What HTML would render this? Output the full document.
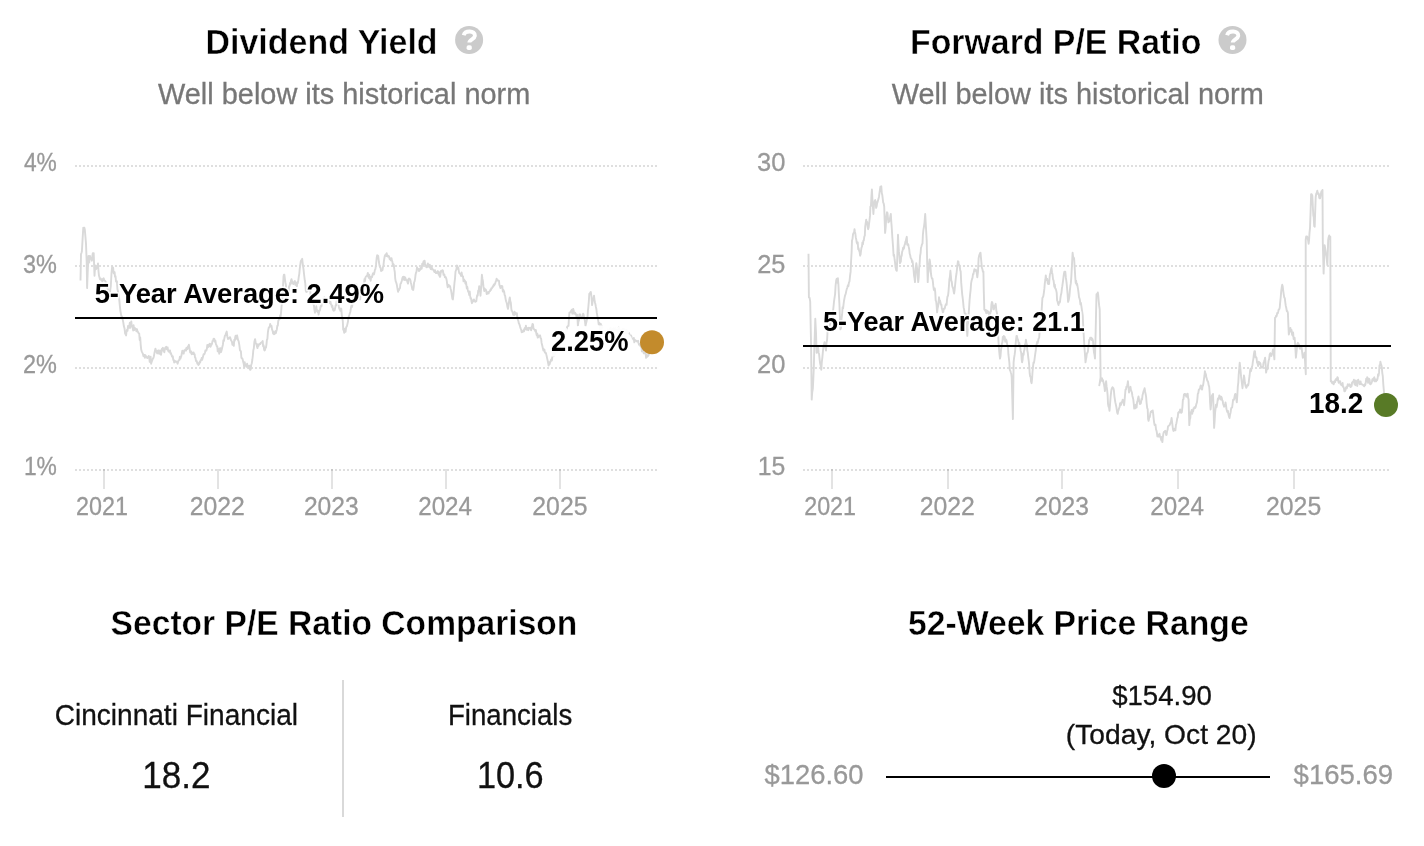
<!DOCTYPE html>
<html><head><meta charset="utf-8"><title>Valuation</title>
<style>
html,body{margin:0;padding:0;background:#fff;}
body{width:1424px;height:846px;overflow:hidden;}
svg{display:block;font-family:"Liberation Sans",sans-serif;will-change:transform;}
</style></head><body>
<svg width="1424" height="846" viewBox="0 0 1424 846">
<line x1="75" y1="166" x2="657" y2="166" stroke="rgba(0,0,0,0.125)" stroke-width="2" stroke-dasharray="2 2"/><line x1="75" y1="266" x2="657" y2="266" stroke="rgba(0,0,0,0.125)" stroke-width="2" stroke-dasharray="2 2"/><line x1="75" y1="368" x2="657" y2="368" stroke="rgba(0,0,0,0.125)" stroke-width="2" stroke-dasharray="2 2"/><line x1="75" y1="470" x2="657" y2="470" stroke="rgba(0,0,0,0.125)" stroke-width="2" stroke-dasharray="2 2"/>
<line x1="104" y1="469" x2="104" y2="489" stroke="rgba(0,0,0,0.11)" stroke-width="2"/>
<line x1="218" y1="469" x2="218" y2="489" stroke="rgba(0,0,0,0.11)" stroke-width="2"/>
<line x1="332" y1="469" x2="332" y2="489" stroke="rgba(0,0,0,0.11)" stroke-width="2"/>
<line x1="446" y1="469" x2="446" y2="489" stroke="rgba(0,0,0,0.11)" stroke-width="2"/>
<line x1="560" y1="469" x2="560" y2="489" stroke="rgba(0,0,0,0.11)" stroke-width="2"/>
<line x1="803" y1="166" x2="1389" y2="166" stroke="rgba(0,0,0,0.125)" stroke-width="2" stroke-dasharray="2 2"/><line x1="803" y1="266" x2="1389" y2="266" stroke="rgba(0,0,0,0.125)" stroke-width="2" stroke-dasharray="2 2"/><line x1="803" y1="368" x2="1389" y2="368" stroke="rgba(0,0,0,0.125)" stroke-width="2" stroke-dasharray="2 2"/><line x1="803" y1="470" x2="1389" y2="470" stroke="rgba(0,0,0,0.125)" stroke-width="2" stroke-dasharray="2 2"/>
<line x1="832" y1="469" x2="832" y2="489" stroke="rgba(0,0,0,0.11)" stroke-width="2"/>
<line x1="948" y1="469" x2="948" y2="489" stroke="rgba(0,0,0,0.11)" stroke-width="2"/>
<line x1="1062" y1="469" x2="1062" y2="489" stroke="rgba(0,0,0,0.11)" stroke-width="2"/>
<line x1="1178" y1="469" x2="1178" y2="489" stroke="rgba(0,0,0,0.11)" stroke-width="2"/>
<line x1="1294" y1="469" x2="1294" y2="489" stroke="rgba(0,0,0,0.11)" stroke-width="2"/>
<path d="M80.5,280.5 L81.0,254.0 L81.5,252.8 L81.9,251.2 L82.6,238.9 L83.3,227.6 L83.8,229.4 L84.3,227.6 L84.8,229.5 L85.2,234.2 L86.0,243.6 L86.7,262.6 L87.1,288.1 L87.9,267.3 L88.5,255.9 L89.2,262.6 L90.0,255.9 L90.4,258.4 L90.9,257.8 L91.4,258.9 L91.9,260.7 L92.3,256.5 L92.8,253.1 L93.3,255.9 L93.7,253.1 L94.5,275.8 L95.2,265.4 L95.6,267.5 L96.1,269.2 L96.6,268.2 L97.1,267.3 L97.5,266.5 L98.0,263.5 L98.5,271.3 L99.0,275.8 L99.4,277.0 L99.9,279.2 L100.4,279.6 L100.8,278.6 L101.3,280.0 L101.8,280.3 L102.3,281.5 L102.7,279.2 L103.2,278.7 L103.7,278.3 L104.2,280.5 L104.6,280.5 L105.1,280.9 L105.6,281.5 L106.0,283.2 L106.5,286.0 L107.0,288.1 L107.5,287.0 L107.9,289.9 L108.4,290.9 L108.9,292.9 L109.4,295.2 L109.8,295.7 L110.3,289.7 L110.8,286.2 L111.5,273.0 L112.2,266.3 L112.7,267.9 L113.1,267.7 L113.6,273.0 L114.1,273.5 L114.6,272.2 L115.0,276.7 L115.5,276.2 L116.0,281.5 L116.4,281.5 L116.9,281.3 L117.4,289.0 L117.9,290.9 L118.3,293.8 L118.8,295.7 L119.3,300.2 L119.9,306.4 L120.4,310.8 L120.9,313.5 L121.3,316.1 L121.8,316.1 L122.3,318.3 L122.8,320.0 L123.3,322.5 L123.8,325.9 L124.5,328.2 L125.1,333.5 L125.6,334.4 L126.1,335.4 L126.5,331.4 L127.0,329.7 L127.5,330.8 L128.0,325.9 L128.4,326.6 L128.9,327.8 L129.4,325.4 L129.8,322.8 L130.3,327.8 L130.8,324.0 L131.3,321.4 L131.7,325.5 L132.2,326.1 L132.7,327.8 L133.2,330.5 L133.6,325.3 L134.1,330.1 L134.6,328.7 L135.0,328.1 L135.5,329.3 L136.0,329.0 L136.4,331.3 L136.9,329.1 L137.4,331.1 L137.8,331.6 L138.5,333.1 L139.2,333.5 L139.7,340.0 L140.2,337.4 L140.7,344.8 L141.2,349.6 L141.7,351.3 L142.2,352.4 L142.8,353.6 L143.5,356.2 L144.0,356.4 L144.5,355.0 L144.9,357.9 L145.4,355.2 L145.9,356.2 L146.3,356.3 L146.8,357.0 L147.3,358.1 L147.8,357.5 L148.2,357.3 L148.7,356.0 L149.2,357.1 L149.7,361.9 L150.1,357.6 L150.6,356.7 L151.1,363.7 L151.7,361.7 L152.4,360.0 L152.9,358.5 L153.4,358.0 L153.9,356.2 L154.4,353.3 L154.9,350.9 L155.4,348.6 L156.1,351.0 L156.7,352.4 L157.2,353.4 L157.7,350.8 L158.2,350.4 L158.6,350.5 L159.1,353.9 L159.6,352.2 L160.1,350.4 L160.5,352.4 L161.0,354.9 L161.5,351.7 L162.0,348.7 L162.4,348.6 L162.9,347.8 L163.4,350.9 L163.8,350.2 L164.3,352.4 L164.8,349.4 L165.3,347.6 L165.7,347.4 L166.2,346.7 L166.7,349.3 L167.2,348.0 L167.6,347.4 L168.1,350.5 L168.6,351.5 L169.0,350.6 L169.5,351.8 L170.0,350.5 L170.5,353.7 L170.9,353.1 L171.4,354.5 L171.9,356.2 L172.4,357.0 L172.8,356.4 L173.3,360.0 L173.8,360.0 L174.2,362.5 L174.7,361.2 L175.2,361.0 L175.7,361.8 L176.1,361.9 L176.6,361.6 L177.1,362.1 L177.6,363.7 L178.0,362.2 L178.5,360.6 L179.0,360.2 L179.4,360.0 L179.9,356.6 L180.4,358.6 L180.9,357.2 L181.3,356.2 L181.8,353.5 L182.3,350.8 L182.8,353.3 L183.2,352.4 L183.7,353.6 L184.2,350.3 L184.6,350.2 L185.1,350.5 L185.6,349.2 L186.1,350.5 L186.5,347.7 L187.0,348.6 L187.5,349.1 L188.0,346.3 L188.4,347.2 L188.9,344.8 L189.6,348.7 L190.2,352.4 L190.7,352.7 L191.2,351.4 L191.7,354.3 L192.2,352.8 L192.7,352.9 L193.2,353.9 L193.6,352.4 L194.1,354.2 L194.6,354.2 L195.0,357.3 L195.5,358.1 L196.0,361.0 L196.5,360.7 L196.9,361.7 L197.4,363.7 L197.9,363.1 L198.4,365.0 L198.8,364.5 L199.3,363.7 L199.8,361.4 L200.2,362.4 L200.7,360.2 L201.2,360.0 L201.7,357.9 L202.1,359.9 L202.6,358.3 L203.1,356.2 L203.6,354.1 L204.0,354.4 L204.5,354.1 L205.0,352.4 L205.4,350.5 L205.9,350.3 L206.4,350.6 L206.9,348.6 L207.3,345.0 L207.8,347.2 L208.3,346.9 L208.8,344.8 L209.2,346.1 L209.7,343.8 L210.2,346.7 L210.7,346.7 L211.1,344.0 L211.6,344.7 L212.1,343.4 L212.5,341.0 L213.0,340.9 L213.5,338.9 L214.0,338.7 L214.4,339.1 L214.9,341.8 L215.4,340.6 L215.9,344.1 L216.3,344.8 L216.8,346.5 L217.3,346.3 L217.7,351.3 L218.2,348.6 L218.7,349.7 L219.2,353.7 L219.6,348.4 L220.1,352.4 L220.6,348.1 L221.1,352.0 L221.5,350.5 L222.0,348.6 L222.5,346.2 L222.9,344.7 L223.4,340.1 L223.9,341.0 L224.4,338.2 L224.9,335.7 L225.4,335.4 L226.1,333.1 L226.7,331.6 L227.4,336.7 L228.0,339.1 L228.6,338.6 L229.1,338.4 L229.6,337.3 L230.0,337.2 L230.5,338.5 L231.0,340.3 L231.5,341.0 L231.9,341.6 L232.4,344.8 L232.9,342.6 L233.3,344.8 L233.8,345.8 L234.3,339.6 L234.8,340.7 L235.2,337.3 L235.7,335.6 L236.2,338.8 L236.7,336.0 L237.1,335.4 L237.6,337.9 L238.1,340.3 L238.6,341.0 L239.3,344.8 L240.0,350.5 L240.4,350.8 L240.9,351.2 L241.4,358.0 L241.9,358.1 L242.3,358.4 L242.8,360.0 L243.3,362.3 L243.7,363.7 L244.2,367.2 L244.7,362.1 L245.2,365.5 L245.6,365.6 L246.1,365.3 L246.6,366.9 L247.1,363.6 L247.5,366.6 L248.0,365.7 L248.5,367.4 L248.9,368.2 L249.4,365.6 L250.1,369.9 L250.7,369.4 L251.2,365.0 L251.8,363.2 L252.3,360.0 L252.8,356.0 L253.3,350.3 L253.8,348.6 L254.4,341.7 L255.1,339.1 L255.6,342.2 L256.0,343.3 L256.5,344.6 L257.0,346.7 L257.5,348.1 L257.9,344.3 L258.4,346.1 L258.9,344.8 L259.3,344.4 L259.8,343.8 L260.3,344.1 L260.8,342.9 L261.2,342.7 L261.7,342.4 L262.2,341.9 L262.7,341.0 L263.1,346.3 L263.6,345.3 L264.1,349.7 L264.6,350.5 L265.0,350.0 L265.5,347.1 L266.0,347.4 L266.4,344.8 L266.9,339.8 L267.4,339.0 L267.9,332.3 L268.3,329.7 L268.8,327.5 L269.3,327.3 L269.8,326.7 L270.2,324.0 L270.9,326.3 L271.5,325.9 L272.1,329.8 L272.6,330.6 L273.1,333.5 L273.5,332.0 L274.0,334.3 L274.5,333.9 L275.0,333.5 L275.4,331.1 L275.9,333.0 L276.4,330.9 L276.8,329.7 L277.3,325.9 L277.8,325.6 L278.3,320.6 L278.7,320.2 L279.2,318.0 L279.7,318.9 L280.2,315.1 L280.6,316.5 L281.1,312.1 L281.6,305.6 L282.1,303.2 L282.8,291.1 L283.5,276.7 L283.9,274.7 L284.4,274.8 L284.9,278.9 L285.4,282.4 L285.8,284.4 L286.3,290.4 L286.8,296.6 L287.2,299.4 L287.7,296.8 L288.2,290.1 L288.7,290.9 L289.1,286.2 L289.6,286.1 L290.1,282.8 L290.6,284.1 L291.0,280.5 L291.5,279.2 L292.0,281.0 L292.4,283.1 L292.9,283.7 L293.4,284.0 L293.9,282.4 L294.4,281.4 L294.9,281.0 L295.4,284.9 L295.9,282.8 L296.4,285.4 L296.9,286.2 L297.4,281.9 L297.8,283.1 L298.3,280.3 L298.8,276.7 L299.3,273.8 L299.7,269.2 L300.2,265.5 L300.7,261.6 L301.2,260.2 L301.7,260.3 L302.2,258.8 L302.8,264.3 L303.5,269.2 L304.2,275.5 L304.8,280.5 L305.3,283.7 L305.8,290.9 L306.3,291.9 L306.9,291.0 L307.4,291.4 L307.9,288.1 L308.5,289.1 L309.2,286.2 L309.7,287.2 L310.1,288.4 L310.6,295.2 L311.1,295.7 L311.5,296.5 L312.0,298.6 L312.5,299.5 L313.0,301.3 L313.4,304.4 L313.9,305.2 L314.4,309.7 L314.9,312.7 L315.3,311.0 L315.8,310.8 L316.3,306.3 L316.7,308.9 L317.2,311.5 L317.7,312.2 L318.2,310.6 L318.6,314.6 L319.1,311.6 L319.6,310.8 L320.1,309.8 L320.5,307.0 L321.0,305.6 L321.5,306.2 L322.0,302.8 L322.4,301.3 L322.9,298.9 L323.4,298.4 L323.8,299.6 L324.3,297.5 L324.8,298.0 L325.3,301.6 L325.7,303.3 L326.2,303.2 L326.7,303.2 L327.2,302.8 L327.6,300.1 L328.1,299.4 L328.6,300.4 L329.0,300.4 L329.5,301.4 L330.0,303.2 L330.5,301.8 L330.9,304.3 L331.4,304.4 L331.9,307.0 L332.4,305.8 L332.8,309.1 L333.3,310.5 L333.8,310.8 L334.2,308.8 L334.7,310.0 L335.2,307.9 L335.7,305.1 L336.1,305.3 L336.6,301.4 L337.1,298.6 L337.6,299.4 L338.0,302.6 L338.5,304.6 L339.0,307.6 L339.4,308.9 L339.9,309.5 L340.4,310.8 L340.9,308.5 L341.3,308.9 L341.8,315.1 L342.3,317.9 L342.8,321.0 L343.2,329.7 L343.7,329.5 L344.2,332.9 L344.6,328.6 L345.1,331.6 L345.6,331.7 L346.1,327.7 L346.5,326.7 L347.0,325.9 L347.5,323.6 L348.0,321.5 L348.4,317.4 L348.9,316.5 L349.4,314.8 L349.8,313.3 L350.3,312.0 L350.8,308.9 L351.3,305.9 L351.7,307.4 L352.2,306.1 L352.7,301.3 L353.2,301.6 L353.6,292.7 L354.1,291.7 L354.6,288.1 L355.0,284.4 L355.5,286.8 L356.0,286.1 L356.5,284.3 L356.9,285.4 L357.4,287.6 L357.9,293.1 L358.4,295.7 L358.8,297.5 L359.3,296.4 L359.8,298.1 L360.2,299.4 L360.7,293.8 L361.2,294.6 L361.7,294.0 L362.1,291.9 L362.6,290.2 L363.1,290.5 L363.6,284.5 L364.0,284.3 L364.5,279.0 L365.0,281.2 L365.4,277.7 L365.9,276.7 L366.4,276.2 L366.9,275.9 L367.3,274.8 L367.8,273.0 L368.3,276.5 L368.8,277.8 L369.2,274.7 L369.7,278.6 L370.2,278.1 L370.7,280.7 L371.1,276.6 L371.6,276.7 L372.1,277.2 L372.5,274.8 L373.0,273.3 L373.5,273.0 L374.0,274.4 L374.4,272.6 L374.9,269.8 L375.4,269.2 L376.0,264.9 L376.7,257.8 L377.2,255.2 L377.7,255.5 L378.2,255.9 L378.9,262.0 L379.5,265.4 L380.0,267.3 L380.5,267.6 L381.1,271.1 L381.5,270.8 L382.0,269.7 L382.5,270.2 L382.9,267.3 L383.4,265.9 L383.9,261.2 L384.4,258.0 L384.8,255.9 L385.3,255.0 L385.8,254.2 L386.3,256.0 L386.7,253.1 L387.2,256.2 L387.7,256.6 L388.1,255.8 L388.6,255.9 L389.1,256.5 L389.6,259.2 L390.0,258.2 L390.5,259.7 L391.0,260.5 L391.5,258.2 L391.9,260.5 L392.4,261.6 L392.9,265.7 L393.3,263.9 L393.8,265.0 L394.3,269.2 L394.8,272.2 L395.2,278.3 L395.7,281.3 L396.2,282.4 L396.7,284.2 L397.1,286.4 L397.6,289.3 L398.1,291.9 L398.5,289.5 L399.0,290.0 L399.5,288.6 L400.0,288.1 L400.4,284.0 L400.9,283.4 L401.4,282.0 L401.9,280.5 L402.3,278.3 L402.8,277.0 L403.3,279.0 L403.7,276.7 L404.2,280.1 L404.7,277.3 L405.2,277.5 L405.6,278.6 L406.1,280.3 L406.6,280.2 L407.1,280.3 L407.5,282.4 L408.0,283.6 L408.5,279.0 L408.9,278.5 L409.4,278.6 L409.9,279.1 L410.4,280.1 L410.8,282.5 L411.3,284.3 L411.8,286.6 L412.3,289.3 L412.7,289.6 L413.2,290.0 L413.7,287.2 L414.1,282.4 L414.6,281.4 L415.1,278.6 L415.6,274.4 L416.0,272.8 L416.5,271.6 L417.0,267.3 L417.5,268.5 L417.9,268.9 L418.4,269.0 L418.9,271.1 L419.3,270.6 L419.8,270.3 L420.3,268.3 L420.8,269.2 L421.2,267.5 L421.7,268.6 L422.2,263.8 L422.7,265.4 L423.1,263.5 L423.6,261.3 L424.1,264.2 L424.6,260.7 L425.0,263.2 L425.5,264.7 L426.0,266.2 L426.4,267.3 L426.9,267.2 L427.4,266.8 L427.9,263.5 L428.3,265.4 L428.8,266.2 L429.3,267.2 L429.8,264.7 L430.2,267.3 L430.7,269.0 L431.2,269.2 L431.6,266.4 L432.1,269.2 L432.6,268.9 L433.1,269.7 L433.5,269.8 L434.0,271.1 L434.5,272.1 L435.0,270.1 L435.4,272.1 L435.9,273.0 L436.4,272.8 L436.8,273.1 L437.3,271.6 L437.8,271.1 L438.3,272.1 L438.7,274.9 L439.2,272.3 L439.7,276.7 L440.2,276.7 L440.6,273.4 L441.1,270.6 L441.6,271.1 L442.0,271.4 L442.5,270.2 L443.0,270.8 L443.5,274.8 L443.9,274.8 L444.4,274.6 L444.9,277.4 L445.4,276.7 L445.8,277.3 L446.3,278.6 L446.8,281.0 L447.2,284.3 L447.7,287.3 L448.2,285.3 L448.7,284.8 L449.1,286.2 L449.6,285.7 L450.1,286.4 L450.6,288.8 L451.0,290.0 L451.5,293.0 L452.0,296.4 L452.4,298.8 L452.9,299.4 L453.4,294.6 L454.0,288.0 L454.5,282.5 L455.0,278.6 L455.5,271.8 L455.9,270.5 L456.4,269.3 L456.9,265.4 L457.4,266.3 L457.8,268.8 L458.3,267.6 L458.8,271.1 L459.3,273.4 L459.7,273.4 L460.2,274.0 L460.7,274.8 L461.1,275.9 L461.6,272.4 L462.1,275.4 L462.6,276.7 L463.0,276.3 L463.5,281.3 L464.0,279.3 L464.5,280.5 L464.9,280.7 L465.4,283.7 L465.9,281.8 L466.3,284.3 L466.8,288.3 L467.3,287.0 L467.8,289.9 L468.2,291.9 L468.7,291.4 L469.2,295.0 L469.7,291.4 L470.1,295.7 L470.6,298.6 L471.1,298.2 L471.5,301.4 L472.0,303.2 L472.5,300.5 L473.0,301.7 L473.4,300.7 L473.9,299.4 L474.4,300.8 L474.9,300.9 L475.3,301.8 L475.8,301.3 L476.3,301.4 L476.7,297.9 L477.2,295.3 L477.7,295.7 L478.2,290.6 L478.7,290.4 L479.2,286.2 L479.9,290.4 L480.5,295.7 L481.2,286.8 L481.9,274.8 L482.4,278.7 L482.9,280.9 L483.4,286.2 L483.8,288.5 L484.3,291.0 L484.8,288.8 L485.3,290.0 L485.7,289.5 L486.2,290.6 L486.7,294.1 L487.2,293.8 L487.6,292.4 L488.1,292.2 L488.6,293.4 L489.0,291.9 L489.5,291.4 L490.0,291.1 L490.5,289.6 L490.9,290.0 L491.4,288.1 L491.9,288.3 L492.4,287.4 L492.8,286.2 L493.3,286.6 L493.8,284.5 L494.2,285.3 L494.7,284.3 L495.2,283.6 L495.7,281.6 L496.1,280.9 L496.6,278.6 L497.1,280.6 L497.6,279.9 L498.0,280.2 L498.5,280.5 L499.0,281.0 L499.4,284.8 L499.9,286.1 L500.4,288.1 L500.9,287.1 L501.3,285.9 L501.8,287.5 L502.3,286.2 L502.8,291.5 L503.2,289.7 L503.7,290.6 L504.2,291.9 L504.6,294.9 L505.1,295.7 L505.6,299.1 L506.1,301.3 L506.5,302.2 L507.0,304.1 L507.5,307.3 L508.0,308.9 L508.4,306.4 L508.9,303.0 L509.4,299.2 L509.8,297.5 L510.3,301.2 L510.8,302.5 L511.3,308.6 L511.7,310.8 L512.2,311.2 L512.7,312.7 L513.2,314.8 L513.6,314.6 L514.1,314.9 L514.6,311.7 L515.0,312.8 L515.5,312.7 L516.0,314.6 L516.5,313.9 L516.9,313.3 L517.4,318.3 L517.9,319.7 L518.4,321.1 L518.8,323.2 L519.3,324.0 L519.8,325.6 L520.2,327.1 L520.7,328.6 L521.2,329.7 L521.7,332.2 L522.1,331.4 L522.6,331.9 L523.1,331.6 L523.6,330.0 L524.0,331.4 L524.5,328.5 L525.0,327.8 L525.4,329.4 L525.9,325.6 L526.4,329.6 L526.9,329.7 L527.3,329.1 L527.8,328.1 L528.3,330.2 L528.8,327.8 L529.2,328.6 L529.7,328.1 L530.2,327.7 L530.7,328.7 L531.1,330.4 L531.6,327.5 L532.1,326.2 L532.5,324.0 L533.0,324.3 L533.5,328.8 L534.0,329.1 L534.4,329.7 L534.9,330.2 L535.4,331.4 L535.9,330.1 L536.3,333.5 L536.8,335.4 L537.3,333.7 L537.7,337.6 L538.2,337.3 L538.7,336.1 L539.2,335.4 L539.6,336.4 L540.1,335.4 L540.6,338.2 L541.1,338.7 L541.6,342.9 L542.3,345.7 L542.9,348.6 L543.4,350.5 L543.9,350.1 L544.4,349.4 L544.8,352.4 L545.3,353.0 L545.8,352.8 L546.3,354.4 L546.7,356.2 L547.2,358.6 L547.7,360.8 L548.1,362.9 L548.6,365.6 L549.1,362.2 L549.6,364.3 L550.0,362.5 L550.5,361.8 L551.0,359.8 L551.5,359.2 L551.9,360.5 L552.4,356.2 L552.9,353.8 L553.3,352.8 L553.8,355.9 L554.3,354.3 L554.8,352.3 L555.2,354.6 L555.7,350.4 L556.2,350.3 L556.7,351.5 L557.1,350.8 L557.6,349.3 L558.1,348.5 L558.5,346.8 L559.0,345.5 L559.5,345.1 L560.0,346.4 L560.4,344.8 L560.9,342.9 L561.4,341.9 L561.9,341.3 L562.3,341.0 L562.8,340.4 L563.3,337.4 L563.7,336.4 L564.2,336.0 L564.7,338.3 L565.2,333.7 L565.6,334.2 L566.1,328.9 L566.6,331.4 L567.1,327.0 L567.5,326.4 L568.0,326.0 L568.5,325.9 L568.9,319.1 L569.4,312.7 L569.9,312.5 L570.4,312.3 L570.8,311.6 L571.3,310.8 L571.8,309.7 L572.3,313.7 L572.7,309.9 L573.2,308.9 L573.7,310.8 L574.1,313.8 L574.6,313.2 L575.1,312.7 L575.6,314.0 L576.0,314.1 L576.5,316.9 L577.0,314.6 L577.5,318.6 L577.9,325.9 L578.4,321.6 L578.9,320.5 L579.3,314.4 L579.8,314.6 L580.3,314.4 L580.8,318.1 L581.2,316.7 L581.7,318.3 L582.2,317.6 L582.7,317.5 L583.1,313.8 L583.6,314.6 L584.1,317.8 L584.6,319.3 L585.0,321.4 L585.5,325.9 L586.0,323.6 L586.4,322.0 L586.9,319.6 L587.4,318.3 L587.9,311.2 L588.3,307.5 L588.8,301.6 L589.3,293.8 L589.8,294.0 L590.3,292.4 L590.8,291.9 L591.5,296.9 L592.1,305.1 L592.6,301.5 L593.1,298.7 L593.5,298.3 L594.0,295.7 L594.5,299.8 L595.0,302.7 L595.4,304.1 L595.9,307.0 L596.4,309.3 L596.8,312.9 L597.3,315.7 L597.8,318.3 L598.3,321.1 L598.7,324.3 L599.2,323.0 L599.7,325.9 L600.1,329.5 L600.6,323.7 L601.0,324.7 L601.5,325.5 L602.0,326.7 L602.4,328.4 L602.9,332.3 L603.3,329.7 L603.8,328.7 L604.3,331.4 L604.7,329.3 L605.2,330.1 L605.7,328.4 L606.1,333.4 L606.6,330.0 L607.1,329.2 L607.6,333.6 L608.0,330.3 L608.5,330.5 L609.0,330.8 L609.5,329.9 L609.9,328.9 L610.4,327.9 L610.9,329.8 L611.4,332.4 L611.8,330.6 L612.3,329.6 L612.8,331.4 L613.2,328.4 L613.7,331.8 L614.2,329.7 L614.7,328.5 L615.1,329.7 L615.6,330.8 L616.1,330.7 L616.6,329.6 L617.0,330.6 L617.5,331.8 L618.0,332.6 L618.4,329.4 L618.9,326.9 L619.4,334.0 L619.9,331.1 L620.3,330.7 L620.8,330.4 L621.3,331.6 L621.8,330.4 L622.2,332.5 L622.7,329.1 L623.2,330.6 L623.7,329.0 L624.1,333.1 L624.6,330.8 L625.1,330.6 L625.6,332.8 L626.1,333.4 L626.6,329.7 L627.1,331.4 L627.6,332.9 L628.1,332.0 L628.6,332.8 L629.1,333.2 L629.6,335.4 L630.0,336.2 L630.5,335.6 L631.0,335.4 L631.5,336.8 L631.9,338.7 L632.4,338.7 L632.9,339.1 L633.3,339.6 L633.8,337.9 L634.3,342.4 L634.8,339.7 L635.2,340.3 L635.7,340.9 L636.2,340.7 L636.7,341.1 L637.1,341.5 L637.6,341.5 L638.1,340.7 L638.5,343.0 L639.0,344.7 L639.5,344.0 L640.0,343.9 L640.4,346.1 L640.9,346.9 L641.4,347.4 L641.9,351.3 L642.3,349.8 L642.8,349.5 L643.3,351.8 L643.8,353.4 L644.2,353.0 L644.7,353.3 L645.2,352.5 L645.6,353.1 L646.1,357.8 L646.6,354.7 L647.1,356.9 L647.7,356.3 L648.2,355.7 L648.7,354.8 L649.2,352.4 L649.6,348.0 L650.1,346.1 L650.5,347.1 L651.0,344.4 L651.5,343.5 L651.9,342.2" fill="none" stroke="#d9d9d9" stroke-width="1.9" stroke-linejoin="round"/>
<path d="M808.5,253.8 L808.9,297.4 L809.6,297.8 L810.2,301.7 L811.1,346.4 L811.7,399.6 L812.2,392.5 L812.8,388.9 L813.3,379.3 L813.8,367.7 L814.3,347.9 L814.8,334.8 L815.3,318.7 L816.0,332.4 L816.6,352.8 L817.1,352.3 L817.6,348.8 L818.1,346.4 L818.6,352.7 L819.1,354.1 L819.6,359.1 L820.1,363.3 L820.7,365.8 L821.3,369.8 L821.8,362.3 L822.4,357.2 L823.0,350.6 L823.5,345.9 L824.0,344.4 L824.5,342.1 L825.0,346.0 L825.5,347.9 L826.0,350.6 L826.5,342.9 L827.1,339.7 L827.7,329.4 L828.2,328.4 L828.7,326.4 L829.3,326.4 L829.8,325.1 L830.3,323.3 L830.9,322.4 L831.4,321.4 L831.9,320.9 L832.4,319.1 L833.0,311.3 L833.5,306.8 L834.0,301.7 L834.6,297.4 L835.1,294.1 L835.6,285.4 L836.2,280.4 L836.7,278.8 L837.3,282.7 L837.9,278.3 L838.4,284.6 L838.9,294.8 L839.4,303.8 L839.9,317.6 L840.4,329.4 L841.0,327.8 L841.6,318.0 L842.1,314.5 L842.6,307.3 L843.1,308.4 L843.6,303.8 L844.1,300.2 L844.6,297.6 L845.1,295.3 L845.7,293.9 L846.2,291.4 L846.8,288.9 L847.3,287.8 L847.9,285.1 L848.4,286.1 L848.9,282.6 L849.5,281.3 L850.1,275.5 L850.6,271.9 L851.1,260.8 L851.6,252.1 L852.0,240.5 L852.5,239.0 L853.0,234.4 L853.5,233.0 L854.0,233.0 L854.5,229.2 L854.9,231.7 L855.4,234.0 L855.8,237.4 L856.3,239.7 L856.7,242.4 L857.2,243.8 L857.7,242.4 L858.2,249.3 L858.6,248.1 L859.1,250.9 L859.6,251.8 L860.1,255.7 L860.6,254.5 L861.0,250.8 L861.5,247.7 L862.0,246.6 L862.4,242.4 L862.9,244.4 L863.4,240.4 L863.8,240.5 L864.3,236.7 L864.8,235.7 L865.2,226.7 L865.7,223.2 L866.2,219.7 L866.7,223.2 L867.1,221.9 L867.6,226.4 L868.1,229.2 L868.6,227.8 L869.0,224.1 L869.5,220.1 L870.0,215.9 L870.4,206.5 L870.9,206.2 L871.4,196.9 L871.9,189.5 L872.4,198.8 L872.9,206.6 L873.4,214.0 L874.0,204.8 L874.7,200.8 L875.2,200.1 L875.7,201.8 L876.1,207.9 L876.6,206.5 L877.1,203.3 L877.5,202.3 L878.0,200.4 L878.5,198.9 L879.0,196.7 L879.4,193.5 L879.9,190.1 L880.4,186.6 L880.9,186.9 L881.3,186.2 L881.8,193.3 L882.3,195.1 L882.7,198.4 L883.2,202.6 L883.7,203.5 L884.2,206.5 L884.6,218.8 L885.1,233.0 L885.6,228.4 L886.1,220.2 L886.5,215.8 L887.0,212.2 L887.5,213.0 L887.9,217.3 L888.4,222.4 L888.9,221.6 L889.4,220.9 L889.8,219.5 L890.3,216.3 L890.8,214.0 L891.3,222.0 L891.8,228.5 L892.3,236.7 L893.0,245.8 L893.6,255.7 L894.1,254.8 L894.6,259.5 L895.0,262.2 L895.5,267.0 L896.2,270.1 L896.8,270.8 L897.4,253.8 L898.0,234.8 L898.4,243.7 L898.9,251.4 L899.4,255.7 L899.9,263.2 L900.3,262.5 L900.8,261.6 L901.2,256.4 L901.7,255.8 L902.1,251.9 L902.6,250.7 L903.1,247.6 L903.5,249.2 L904.0,248.1 L904.5,245.0 L904.9,244.5 L905.4,241.7 L905.8,241.0 L906.3,238.6 L906.8,236.8 L907.2,244.6 L907.7,244.9 L908.2,244.3 L908.7,246.9 L909.2,249.2 L909.7,253.8 L910.2,255.2 L910.6,257.6 L911.1,258.6 L911.6,259.4 L912.1,262.4 L912.5,261.2 L913.0,264.8 L913.5,268.9 L914.0,275.3 L914.5,278.1 L915.0,282.1 L915.7,270.4 L916.3,263.2 L916.8,266.6 L917.3,270.5 L917.7,275.9 L918.2,282.1 L918.7,277.3 L919.1,268.6 L919.6,264.0 L920.1,255.7 L920.6,253.1 L921.0,247.7 L921.5,246.2 L922.0,244.3 L922.5,243.5 L922.9,234.6 L923.4,229.9 L923.9,227.3 L924.5,222.5 L925.2,214.0 L925.7,223.0 L926.2,231.7 L926.7,240.5 L927.2,263.6 L927.7,282.1 L928.1,273.8 L928.6,271.4 L929.1,263.5 L929.6,259.4 L930.0,261.5 L930.5,266.7 L931.0,274.0 L931.4,276.5 L931.9,278.6 L932.4,278.4 L932.9,281.8 L933.3,285.9 L933.8,289.7 L934.3,290.3 L934.8,288.5 L935.2,291.6 L935.7,300.5 L936.2,301.4 L936.6,305.4 L937.1,312.4 L937.6,308.4 L938.1,306.3 L938.5,303.5 L939.0,297.3 L939.5,300.7 L940.0,300.4 L940.4,302.1 L940.9,304.8 L941.4,304.5 L941.8,308.5 L942.3,309.6 L942.8,312.4 L943.3,311.8 L943.7,308.6 L944.2,308.8 L944.7,308.6 L945.2,306.3 L945.6,304.9 L946.1,304.0 L946.6,304.8 L947.0,300.0 L947.5,296.4 L948.0,295.8 L948.5,291.6 L948.9,286.5 L949.4,279.2 L949.9,276.8 L950.4,270.8 L950.8,275.0 L951.3,280.6 L951.8,281.8 L952.2,285.9 L952.7,287.5 L953.2,288.6 L953.7,291.8 L954.1,293.5 L954.6,290.0 L955.1,285.2 L955.6,280.3 L956.0,276.5 L956.5,273.5 L957.0,269.0 L957.4,265.5 L957.9,261.3 L958.4,261.6 L958.8,265.1 L959.3,264.9 L959.8,266.9 L960.2,270.1 L960.7,271.6 L961.2,282.4 L961.7,288.3 L962.2,294.3 L962.7,298.1 L963.1,301.6 L963.6,307.2 L964.1,309.4 L964.6,313.0 L965.0,314.1 L965.5,313.4 L966.0,315.1 L966.6,325.8 L967.3,335.9 L968.0,325.0 L968.6,315.1 L969.1,307.7 L969.6,299.9 L970.1,294.3 L970.6,290.1 L971.1,283.4 L971.5,281.1 L972.0,279.2 L972.5,277.9 L973.0,274.0 L973.4,274.3 L973.9,271.6 L974.4,269.2 L974.9,270.1 L975.3,270.8 L975.8,269.7 L976.3,270.6 L976.8,273.7 L977.3,277.3 L978.0,271.6 L978.6,258.4 L979.1,255.9 L979.6,254.4 L980.1,253.2 L980.5,252.7 L981.2,260.3 L981.9,267.8 L982.4,269.0 L982.9,271.9 L983.4,271.6 L983.8,291.7 L984.3,309.4 L984.8,309.8 L985.3,310.8 L985.7,310.1 L986.2,313.2 L986.7,310.4 L987.2,311.1 L987.6,312.9 L988.1,311.3 L988.6,312.5 L989.0,314.4 L989.5,315.6 L990.0,315.1 L990.5,311.5 L990.9,311.7 L991.4,304.4 L991.9,301.9 L992.4,302.8 L992.8,305.0 L993.3,309.3 L993.8,309.4 L994.2,307.8 L994.7,305.5 L995.2,305.8 L995.7,303.8 L996.3,310.2 L997.0,313.2 L997.5,322.5 L998.0,331.7 L998.5,341.6 L999.0,348.9 L999.5,354.4 L1000.0,358.6 L1000.5,356.3 L1001.0,349.9 L1001.4,347.7 L1001.9,343.5 L1002.4,342.1 L1002.8,336.9 L1003.3,339.6 L1003.8,335.9 L1004.2,336.8 L1004.7,336.9 L1005.2,341.7 L1005.6,339.2 L1006.1,339.7 L1006.5,340.5 L1007.0,343.4 L1007.5,346.2 L1008.0,347.3 L1008.4,354.2 L1008.9,358.5 L1009.4,363.0 L1009.8,370.0 L1010.3,370.8 L1010.8,372.5 L1011.3,374.0 L1011.7,377.5 L1012.3,398.3 L1012.9,419.1 L1013.6,362.4 L1014.1,357.9 L1014.6,354.9 L1015.1,351.0 L1015.8,342.2 L1016.5,335.9 L1016.9,336.0 L1017.4,338.5 L1017.9,339.6 L1018.4,341.6 L1018.8,344.8 L1019.3,343.0 L1019.8,346.2 L1020.2,347.3 L1020.7,351.0 L1021.2,352.8 L1021.7,359.7 L1022.1,362.4 L1022.6,359.8 L1023.1,353.5 L1023.6,354.8 L1024.0,351.0 L1024.5,349.6 L1025.0,344.1 L1025.4,345.1 L1025.9,339.7 L1026.4,343.2 L1026.9,344.5 L1027.3,350.5 L1027.8,352.9 L1028.3,357.6 L1028.8,361.3 L1029.2,365.3 L1029.7,373.7 L1030.2,376.5 L1030.7,377.3 L1031.1,381.8 L1031.6,383.2 L1032.1,378.6 L1032.5,372.0 L1033.0,366.8 L1033.5,362.4 L1034.0,362.7 L1034.4,360.3 L1034.9,356.4 L1035.4,352.9 L1035.9,349.5 L1036.3,345.8 L1036.8,343.8 L1037.3,341.6 L1037.7,343.2 L1038.2,340.4 L1038.7,338.3 L1039.2,337.8 L1039.6,331.7 L1040.1,329.5 L1040.6,323.7 L1041.1,320.8 L1041.7,309.5 L1042.4,298.1 L1042.9,297.3 L1043.4,295.9 L1043.9,292.4 L1044.4,288.4 L1044.8,283.4 L1045.3,280.0 L1045.8,275.4 L1046.3,280.0 L1046.7,279.7 L1047.2,278.9 L1047.7,283.0 L1048.1,283.9 L1048.6,280.5 L1049.1,284.0 L1049.6,277.3 L1050.0,274.2 L1050.5,272.4 L1051.0,269.7 L1051.5,267.8 L1052.0,272.2 L1052.5,274.5 L1053.0,279.2 L1053.6,280.7 L1054.3,286.7 L1054.8,284.7 L1055.2,288.4 L1055.7,288.8 L1056.2,290.5 L1056.7,292.9 L1057.1,300.4 L1057.6,301.7 L1058.1,303.8 L1058.5,305.0 L1059.0,302.1 L1059.5,302.8 L1060.0,301.9 L1060.4,298.2 L1060.9,294.9 L1061.4,293.1 L1061.9,288.6 L1062.3,286.2 L1062.8,282.5 L1063.3,278.9 L1063.7,275.4 L1064.3,271.9 L1064.8,271.7 L1065.3,271.6 L1065.9,277.9 L1066.6,283.0 L1067.1,288.7 L1067.6,294.4 L1068.1,301.9 L1068.8,299.6 L1069.4,296.2 L1069.9,290.1 L1070.4,285.7 L1070.8,283.4 L1071.3,277.3 L1072.0,264.4 L1072.6,252.7 L1073.1,256.8 L1073.6,257.3 L1074.1,258.4 L1074.7,267.8 L1075.2,276.5 L1075.7,283.0 L1076.1,280.6 L1076.6,284.7 L1077.1,283.8 L1077.6,286.7 L1078.0,288.9 L1078.5,292.3 L1079.0,297.1 L1079.4,298.1 L1079.9,299.9 L1080.4,304.4 L1080.9,303.0 L1081.3,305.7 L1082.0,310.3 L1082.7,315.1 L1083.3,327.5 L1084.0,339.7 L1084.5,348.7 L1085.0,354.7 L1085.5,362.4 L1086.0,359.1 L1086.4,357.2 L1086.9,353.2 L1087.4,352.9 L1087.9,351.5 L1088.3,347.4 L1088.8,343.7 L1089.3,339.7 L1089.8,339.6 L1090.2,337.8 L1090.7,337.7 L1091.2,337.8 L1091.6,340.0 L1092.1,338.5 L1092.6,339.4 L1093.1,341.6 L1093.5,348.2 L1094.0,352.5 L1094.5,354.8 L1095.0,358.6 L1095.5,338.0 L1096.0,316.0 L1096.5,294.3 L1097.1,295.5 L1097.8,292.4 L1098.3,296.0 L1098.7,301.0 L1099.2,305.9 L1099.7,309.4 L1100.2,345.7 L1100.6,377.5 L1100.2,379.8 L1099.7,383.1 L1099.3,385.4 L1099.7,383.2 L1100.2,381.6 L1100.7,381.1 L1101.1,379.2 L1101.6,379.4 L1102.1,378.3 L1102.6,381.1 L1103.0,380.1 L1103.5,382.6 L1104.0,384.5 L1104.5,387.6 L1104.9,391.1 L1105.5,386.6 L1106.1,381.1 L1106.6,386.4 L1107.1,389.6 L1107.6,394.8 L1108.0,403.8 L1108.5,406.7 L1109.0,407.1 L1109.5,410.9 L1110.0,404.9 L1110.6,396.7 L1111.1,392.4 L1111.5,389.4 L1112.0,388.2 L1112.5,387.2 L1113.0,388.1 L1113.4,388.2 L1113.9,390.5 L1114.4,396.1 L1114.9,399.6 L1115.3,402.2 L1115.8,404.4 L1116.3,406.7 L1116.7,409.4 L1117.2,412.7 L1117.7,413.8 L1118.2,410.8 L1118.6,410.0 L1119.1,408.1 L1119.6,407.1 L1120.1,403.1 L1120.5,405.2 L1121.0,404.9 L1121.5,402.2 L1122.0,402.4 L1122.7,399.6 L1123.1,400.4 L1123.6,402.7 L1124.1,405.2 L1124.6,400.2 L1125.0,395.3 L1125.5,389.6 L1126.0,389.4 L1126.4,386.7 L1126.9,386.8 L1127.4,385.0 L1127.9,381.1 L1128.5,387.4 L1129.0,392.5 L1129.5,390.0 L1130.0,388.7 L1130.5,386.8 L1130.9,389.9 L1131.4,391.2 L1131.9,392.5 L1132.4,395.9 L1132.8,397.4 L1133.3,399.6 L1133.8,404.1 L1134.2,408.6 L1134.7,408.1 L1135.2,408.3 L1135.7,404.7 L1136.1,406.7 L1136.6,407.4 L1137.1,402.0 L1137.6,401.0 L1138.0,398.4 L1138.5,396.5 L1139.0,399.6 L1139.4,401.6 L1139.9,404.1 L1140.4,403.8 L1140.9,403.2 L1141.5,399.0 L1142.0,399.6 L1142.5,395.3 L1143.0,393.4 L1143.6,390.9 L1144.1,390.1 L1144.6,388.2 L1145.1,391.4 L1145.6,394.0 L1146.1,396.7 L1146.6,403.0 L1147.2,408.1 L1147.7,409.1 L1148.1,419.0 L1148.6,420.9 L1149.2,417.6 L1149.8,417.1 L1150.3,413.8 L1150.8,411.6 L1151.3,412.1 L1151.7,410.9 L1152.2,411.6 L1152.7,410.4 L1153.2,413.8 L1153.6,418.1 L1154.1,422.3 L1154.6,425.1 L1155.0,424.9 L1155.5,424.8 L1156.0,429.4 L1156.5,430.8 L1156.9,432.8 L1157.4,436.5 L1157.9,435.9 L1158.5,435.0 L1159.0,436.7 L1159.5,433.6 L1160.0,436.5 L1160.5,437.0 L1161.0,439.3 L1161.4,440.5 L1161.9,436.9 L1162.4,442.1 L1162.8,437.5 L1163.3,434.1 L1163.8,432.2 L1164.3,431.6 L1164.7,431.7 L1165.2,430.8 L1165.7,432.5 L1166.2,435.0 L1166.6,435.0 L1167.1,431.2 L1167.6,429.8 L1168.0,426.5 L1168.5,425.9 L1169.0,425.6 L1169.5,425.1 L1169.9,424.6 L1170.4,422.8 L1170.9,422.3 L1171.6,418.0 L1172.1,422.1 L1172.5,425.5 L1173.0,429.4 L1173.5,430.9 L1174.0,429.2 L1174.4,429.4 L1174.9,428.4 L1175.4,430.4 L1175.9,425.1 L1176.3,423.7 L1176.8,421.1 L1177.3,418.0 L1177.7,417.7 L1178.2,412.7 L1178.7,412.3 L1179.2,412.5 L1179.6,411.6 L1180.1,409.5 L1180.7,411.1 L1181.2,412.9 L1181.8,412.3 L1182.4,407.1 L1182.9,399.6 L1183.4,399.5 L1183.9,394.8 L1184.4,393.9 L1184.8,395.0 L1185.3,394.0 L1185.8,395.3 L1186.3,396.7 L1186.7,394.6 L1187.2,393.9 L1187.7,393.8 L1188.1,397.8 L1188.6,399.6 L1189.3,425.1 L1189.8,419.4 L1190.3,418.1 L1190.7,412.3 L1191.2,412.3 L1191.7,410.0 L1192.2,413.8 L1192.6,411.3 L1193.1,411.5 L1193.6,408.1 L1194.1,408.6 L1194.5,407.1 L1195.0,408.1 L1195.5,407.6 L1195.9,406.1 L1196.4,403.8 L1196.9,402.7 L1197.4,398.6 L1197.8,393.9 L1198.3,393.0 L1198.8,389.9 L1199.3,389.6 L1199.7,388.7 L1200.2,387.3 L1200.7,385.4 L1201.1,386.8 L1201.6,388.9 L1202.1,389.6 L1202.6,385.5 L1203.0,385.8 L1203.5,382.6 L1204.0,378.8 L1204.5,375.5 L1204.9,371.2 L1205.4,373.0 L1205.9,374.5 L1206.3,376.9 L1206.8,378.7 L1207.3,380.9 L1207.8,381.1 L1208.2,382.5 L1208.7,385.4 L1209.2,386.8 L1209.7,393.2 L1210.1,402.6 L1210.6,409.5 L1211.1,404.8 L1211.5,398.1 L1212.0,395.3 L1212.5,396.3 L1213.0,393.9 L1213.6,409.6 L1214.1,427.9 L1214.6,421.4 L1215.1,412.7 L1215.6,408.1 L1216.0,404.6 L1216.5,407.2 L1217.0,405.2 L1217.5,401.3 L1217.9,398.4 L1218.4,399.6 L1218.9,398.3 L1219.3,395.4 L1219.8,396.7 L1220.3,396.4 L1220.8,399.5 L1221.2,396.7 L1221.7,397.6 L1222.2,400.1 L1222.7,401.0 L1223.1,403.7 L1223.6,405.1 L1224.1,406.7 L1224.6,405.1 L1225.0,406.1 L1225.5,402.4 L1226.0,405.1 L1226.4,408.6 L1226.9,410.9 L1227.4,412.0 L1227.9,410.9 L1228.3,413.8 L1228.9,416.4 L1229.5,418.0 L1230.0,414.8 L1230.6,412.4 L1231.2,408.1 L1231.6,407.7 L1232.1,407.6 L1232.6,403.8 L1233.1,399.6 L1233.5,400.2 L1234.0,399.6 L1234.5,397.0 L1235.0,394.5 L1235.4,393.9 L1235.9,397.4 L1236.4,399.5 L1236.8,402.4 L1237.3,396.0 L1237.8,386.7 L1238.3,382.6 L1238.7,374.5 L1239.2,369.2 L1239.7,362.7 L1240.2,366.8 L1240.6,371.2 L1241.1,376.9 L1241.6,380.5 L1242.0,384.0 L1242.5,388.2 L1243.0,382.4 L1243.5,382.2 L1243.9,375.5 L1244.4,377.8 L1244.9,383.0 L1245.4,385.4 L1245.8,386.7 L1246.3,387.8 L1246.8,386.8 L1247.2,385.5 L1247.7,384.4 L1248.2,385.4 L1248.7,382.7 L1249.1,379.2 L1249.6,375.5 L1250.1,370.5 L1250.6,368.7 L1251.0,371.2 L1251.5,368.5 L1252.0,366.8 L1252.4,365.5 L1252.9,361.4 L1253.4,358.6 L1253.9,354.2 L1254.4,351.3 L1255.0,351.3 L1255.5,357.4 L1256.0,356.9 L1256.5,357.7 L1257.0,362.4 L1257.6,363.6 L1258.1,366.0 L1258.7,361.8 L1259.2,364.1 L1259.8,362.6 L1260.4,363.5 L1260.9,366.6 L1261.5,367.6 L1262.0,366.9 L1262.6,367.5 L1263.1,366.0 L1263.6,362.6 L1264.1,361.3 L1264.6,359.8 L1265.1,357.7 L1265.6,364.0 L1266.1,372.6 L1266.6,369.8 L1267.1,369.4 L1267.6,369.2 L1268.1,364.3 L1268.6,360.7 L1269.2,358.9 L1269.7,354.4 L1270.3,353.2 L1270.8,354.8 L1271.4,356.0 L1271.9,354.3 L1272.5,352.5 L1273.0,349.4 L1273.7,352.9 L1274.4,359.3 L1275.0,317.9 L1275.6,317.6 L1276.1,315.7 L1276.6,316.2 L1277.2,313.0 L1277.7,313.4 L1278.2,311.8 L1278.7,309.4 L1279.2,309.4 L1279.7,308.0 L1280.2,302.1 L1280.7,297.5 L1281.2,291.4 L1281.7,287.5 L1282.2,284.8 L1282.7,286.3 L1283.3,291.3 L1283.8,294.8 L1284.3,297.6 L1284.8,298.1 L1285.3,302.6 L1285.8,306.0 L1286.3,308.0 L1286.8,311.0 L1287.4,311.2 L1287.9,313.0 L1288.8,334.5 L1289.3,332.6 L1289.9,329.5 L1290.4,327.9 L1291.0,331.5 L1291.5,330.0 L1292.1,334.5 L1292.6,335.5 L1293.1,332.4 L1293.6,339.0 L1294.1,338.5 L1294.6,337.8 L1295.2,344.6 L1295.9,357.7 L1296.4,353.2 L1296.9,348.1 L1297.4,343.9 L1297.9,342.8 L1298.4,343.8 L1299.0,344.8 L1299.5,347.7 L1300.1,348.7 L1300.6,345.9 L1301.2,346.1 L1301.7,348.3 L1302.3,353.7 L1302.8,357.7 L1303.4,356.6 L1304.0,355.6 L1304.5,352.7 L1305.2,364.2 L1305.8,374.2 L1305.7,239.6 L1306.2,236.4 L1306.7,236.5 L1307.2,236.7 L1307.6,238.8 L1308.1,240.2 L1308.6,243.8 L1309.1,239.7 L1309.5,232.9 L1310.0,228.2 L1310.6,211.1 L1311.1,194.2 L1311.7,194.3 L1312.3,195.6 L1312.8,205.6 L1313.3,215.5 L1313.7,217.0 L1314.2,226.1 L1314.7,226.8 L1315.2,211.1 L1315.7,197.0 L1316.2,193.8 L1316.8,192.8 L1317.3,190.6 L1317.8,193.6 L1318.2,194.2 L1318.7,193.5 L1319.2,197.5 L1319.6,198.4 L1320.1,198.3 L1320.6,195.5 L1321.1,192.8 L1321.5,191.1 L1322.0,192.7 L1322.5,189.9 L1322.8,242.4 L1323.6,273.6 L1324.1,259.1 L1324.6,245.2 L1325.1,248.0 L1325.6,251.0 L1326.0,253.8 L1326.5,256.8 L1327.0,261.9 L1327.4,265.1 L1328.2,239.6 L1328.7,237.0 L1329.2,235.5 L1329.8,239.2 L1330.3,236.7 L1330.8,381.4 L1331.3,380.8 L1331.7,381.8 L1332.2,383.3 L1332.7,382.6 L1333.1,382.0 L1333.6,384.3 L1334.1,383.0 L1334.6,380.9 L1335.0,382.2 L1335.5,379.8 L1336.0,379.1 L1336.5,378.6 L1336.9,380.2 L1337.4,377.2 L1337.9,377.8 L1338.3,381.5 L1338.8,382.8 L1339.3,381.4 L1339.8,382.0 L1340.2,381.3 L1340.7,384.6 L1341.2,384.1 L1341.7,385.3 L1342.1,384.3 L1342.6,383.0 L1343.0,386.9 L1343.5,387.0 L1343.9,388.3 L1344.4,391.3 L1344.9,391.2 L1345.4,390.4 L1345.9,387.6 L1346.3,386.9 L1346.8,388.3 L1347.3,386.2 L1347.8,384.3 L1348.3,384.5 L1348.7,385.9 L1349.2,385.8 L1349.7,384.3 L1350.2,385.8 L1350.6,387.1 L1351.1,386.5 L1351.6,386.1 L1352.1,382.5 L1352.5,382.1 L1353.0,381.5 L1353.5,381.4 L1353.9,379.6 L1354.4,384.0 L1354.9,383.5 L1355.4,385.2 L1355.8,380.5 L1356.3,384.3 L1356.8,382.6 L1357.3,386.0 L1357.7,380.7 L1358.2,379.7 L1358.7,382.2 L1359.1,381.4 L1359.6,384.2 L1360.1,383.3 L1360.6,381.4 L1361.0,384.1 L1361.5,384.4 L1362.0,384.3 L1362.5,384.6 L1362.9,384.8 L1363.4,385.5 L1363.9,385.9 L1364.3,386.3 L1364.8,384.3 L1365.3,384.9 L1365.8,382.1 L1366.2,378.7 L1366.7,381.3 L1367.2,377.3 L1367.7,378.6 L1368.1,382.9 L1368.6,378.7 L1369.1,378.7 L1369.6,379.6 L1370.0,383.9 L1370.5,384.3 L1371.0,383.7 L1371.4,383.3 L1371.9,381.8 L1372.4,379.3 L1372.9,380.7 L1373.3,378.6 L1373.8,378.0 L1374.3,377.3 L1374.8,381.3 L1375.2,381.2 L1375.7,379.5 L1376.2,381.4 L1376.6,379.6 L1377.1,380.1 L1377.6,378.5 L1378.1,374.1 L1378.5,375.9 L1379.0,372.9 L1379.5,365.3 L1380.0,365.5 L1380.4,361.6 L1380.9,364.0 L1381.4,365.1 L1381.8,367.2 L1382.3,373.1 L1382.8,376.2 L1383.3,384.3 L1383.7,388.8 L1384.2,394.4 L1384.7,398.4 L1385.3,400.3 L1386.0,405.0" fill="none" stroke="#d9d9d9" stroke-width="1.9" stroke-linejoin="round"/>
<line x1="75" y1="318" x2="657" y2="318" stroke="#000" stroke-width="2"/>
<line x1="803" y1="346" x2="1391" y2="346" stroke="#000" stroke-width="2"/>
<text x="205.5" y="53.7" font-size="35.5" font-weight="bold" fill="#000" textLength="232.1" lengthAdjust="spacingAndGlyphs" stroke="#fff" stroke-width="0.45">Dividend Yield</text>
<text x="910.0" y="53.8" font-size="35.5" font-weight="bold" fill="#000" textLength="291.4" lengthAdjust="spacingAndGlyphs" stroke="#fff" stroke-width="0.45">Forward P/E Ratio</text>
<text x="158.0" y="104.1" font-size="29" font-weight="normal" fill="#777" textLength="372.3" lengthAdjust="spacingAndGlyphs" stroke="#777" stroke-width="0.3">Well below its historical norm</text>
<text x="891.8" y="103.9" font-size="29" font-weight="normal" fill="#777" textLength="372.0" lengthAdjust="spacingAndGlyphs" stroke="#777" stroke-width="0.3">Well below its historical norm</text>
<text x="94.7" y="302.5" font-size="28.2" font-weight="bold" fill="#000" textLength="289.3" lengthAdjust="spacingAndGlyphs" stroke="#fff" stroke-opacity="0.85" stroke-width="3.5" stroke-linejoin="round" paint-order="stroke">5-Year Average: 2.49%</text>
<text x="823.0" y="330.6" font-size="28.2" font-weight="bold" fill="#000" textLength="261.7" lengthAdjust="spacingAndGlyphs" stroke="#fff" stroke-opacity="0.85" stroke-width="3.5" stroke-linejoin="round" paint-order="stroke">5-Year Average: 21.1</text>
<text x="551.0" y="350.9" font-size="28.8" font-weight="bold" fill="#000" textLength="77.5" lengthAdjust="spacingAndGlyphs" stroke="#fff" stroke-opacity="0.92" stroke-width="11" stroke-linejoin="round" paint-order="stroke">2.25%</text>
<text x="1309.0" y="412.9" font-size="28.8" font-weight="bold" fill="#000" textLength="54.2" lengthAdjust="spacingAndGlyphs" stroke="#fff" stroke-opacity="0.92" stroke-width="11" stroke-linejoin="round" paint-order="stroke">18.2</text>
<text x="23.9" y="171.0" font-size="25.4" font-weight="normal" fill="#999" textLength="32.9" lengthAdjust="spacingAndGlyphs" stroke="#999" stroke-width="0.3">4%</text>
<text x="23.0" y="272.6" font-size="25.4" font-weight="normal" fill="#999" textLength="33.9" lengthAdjust="spacingAndGlyphs" stroke="#999" stroke-width="0.3">3%</text>
<text x="23.0" y="373.4" font-size="25.4" font-weight="normal" fill="#999" textLength="33.9" lengthAdjust="spacingAndGlyphs" stroke="#999" stroke-width="0.3">2%</text>
<text x="23.9" y="475.0" font-size="25.4" font-weight="normal" fill="#999" textLength="33.0" lengthAdjust="spacingAndGlyphs" stroke="#999" stroke-width="0.3">1%</text>
<text x="757.1" y="171.0" font-size="25.4" font-weight="normal" fill="#999" textLength="28.4" lengthAdjust="spacingAndGlyphs" stroke="#999" stroke-width="0.3">30</text>
<text x="757.2" y="272.6" font-size="25.4" font-weight="normal" fill="#999" textLength="28.2" lengthAdjust="spacingAndGlyphs" stroke="#999" stroke-width="0.3">25</text>
<text x="757.1" y="373.4" font-size="25.4" font-weight="normal" fill="#999" textLength="28.4" lengthAdjust="spacingAndGlyphs" stroke="#999" stroke-width="0.3">20</text>
<text x="757.7" y="475.0" font-size="25.4" font-weight="normal" fill="#999" textLength="27.6" lengthAdjust="spacingAndGlyphs" stroke="#999" stroke-width="0.3">15</text>
<text x="76.1" y="515.2" font-size="25.7" font-weight="normal" fill="#999" textLength="51.9" lengthAdjust="spacingAndGlyphs" stroke="#999" stroke-width="0.3">2021</text>
<text x="189.7" y="515.2" font-size="25.7" font-weight="normal" fill="#999" textLength="55.2" lengthAdjust="spacingAndGlyphs" stroke="#999" stroke-width="0.3">2022</text>
<text x="303.9" y="515.2" font-size="25.7" font-weight="normal" fill="#999" textLength="54.8" lengthAdjust="spacingAndGlyphs" stroke="#999" stroke-width="0.3">2023</text>
<text x="418.2" y="515.2" font-size="25.7" font-weight="normal" fill="#999" textLength="53.8" lengthAdjust="spacingAndGlyphs" stroke="#999" stroke-width="0.3">2024</text>
<text x="532.3" y="515.2" font-size="25.7" font-weight="normal" fill="#999" textLength="55.2" lengthAdjust="spacingAndGlyphs" stroke="#999" stroke-width="0.3">2025</text>
<text x="804.2" y="515.2" font-size="25.7" font-weight="normal" fill="#999" textLength="51.8" lengthAdjust="spacingAndGlyphs" stroke="#999" stroke-width="0.3">2021</text>
<text x="919.7" y="515.2" font-size="25.7" font-weight="normal" fill="#999" textLength="55.2" lengthAdjust="spacingAndGlyphs" stroke="#999" stroke-width="0.3">2022</text>
<text x="1034.2" y="515.2" font-size="25.7" font-weight="normal" fill="#999" textLength="54.8" lengthAdjust="spacingAndGlyphs" stroke="#999" stroke-width="0.3">2023</text>
<text x="1150.2" y="515.2" font-size="25.7" font-weight="normal" fill="#999" textLength="53.8" lengthAdjust="spacingAndGlyphs" stroke="#999" stroke-width="0.3">2024</text>
<text x="1266.0" y="515.2" font-size="25.7" font-weight="normal" fill="#999" textLength="55.2" lengthAdjust="spacingAndGlyphs" stroke="#999" stroke-width="0.3">2025</text>
<text x="110.6" y="635.0" font-size="35.5" font-weight="bold" fill="#000" textLength="466.8" lengthAdjust="spacingAndGlyphs" stroke="#fff" stroke-width="0.45">Sector P/E Ratio Comparison</text>
<text x="54.7" y="725.1" font-size="29" font-weight="normal" fill="#111" textLength="243.3" lengthAdjust="spacingAndGlyphs" stroke="#111" stroke-width="0.3">Cincinnati Financial</text>
<text x="447.9" y="725.4" font-size="29" font-weight="normal" fill="#111" textLength="124.4" lengthAdjust="spacingAndGlyphs" stroke="#111" stroke-width="0.3">Financials</text>
<text x="142.3" y="788.0" font-size="36" font-weight="normal" fill="#111" textLength="68.2" lengthAdjust="spacingAndGlyphs" stroke="#111" stroke-width="0.3">18.2</text>
<text x="476.9" y="787.9" font-size="36" font-weight="normal" fill="#111" textLength="66.8" lengthAdjust="spacingAndGlyphs" stroke="#111" stroke-width="0.3">10.6</text>
<text x="907.9" y="635.1" font-size="35.5" font-weight="bold" fill="#000" textLength="340.8" lengthAdjust="spacingAndGlyphs" stroke="#fff" stroke-width="0.45">52-Week Price Range</text>
<text x="1112.2" y="704.7" font-size="28" font-weight="normal" fill="#111" textLength="99.7" lengthAdjust="spacingAndGlyphs" stroke="#111" stroke-width="0.3">$154.90</text>
<text x="1065.8" y="743.5" font-size="28" font-weight="normal" fill="#111" textLength="190.8" lengthAdjust="spacingAndGlyphs" stroke="#111" stroke-width="0.3">(Today, Oct 20)</text>
<text x="764.5" y="784.2" font-size="28" font-weight="normal" fill="#999" textLength="99.0" lengthAdjust="spacingAndGlyphs" stroke="#999" stroke-width="0.3">$126.60</text>
<text x="1293.6" y="784.2" font-size="28" font-weight="normal" fill="#999" textLength="99.5" lengthAdjust="spacingAndGlyphs" stroke="#999" stroke-width="0.3">$165.69</text>
<circle cx="652" cy="342.2" r="12" fill="#c38b2c"/>
<circle cx="1386" cy="405" r="12" fill="#587a26"/>
<circle cx="469.1" cy="40" r="14" fill="#cbcbcb"/><path d="M463.70000000000005,35.2 C464.90000000000003,30.2 475.3,30.2 474.90000000000003,35.8 C474.6,39.2 469.3,39.4 469.3,42.6" fill="none" stroke="#fff" stroke-width="3.9" stroke-linecap="butt"/><rect x="466.6" y="45.2" width="5.2" height="4.8" rx="1.8" fill="#fff"/>
<circle cx="1232.5" cy="40" r="14" fill="#cbcbcb"/><path d="M1227.1,35.2 C1228.3,30.2 1238.7,30.2 1238.3,35.8 C1238.0,39.2 1232.7,39.4 1232.7,42.6" fill="none" stroke="#fff" stroke-width="3.9" stroke-linecap="butt"/><rect x="1230.0" y="45.2" width="5.2" height="4.8" rx="1.8" fill="#fff"/>
<line x1="343" y1="680" x2="343" y2="817" stroke="#d9d9d9" stroke-width="2"/>
<line x1="886" y1="777" x2="1270" y2="777" stroke="#000" stroke-width="2"/>
<circle cx="1164" cy="775.9" r="12" fill="#000"/>
</svg>
</body></html>
